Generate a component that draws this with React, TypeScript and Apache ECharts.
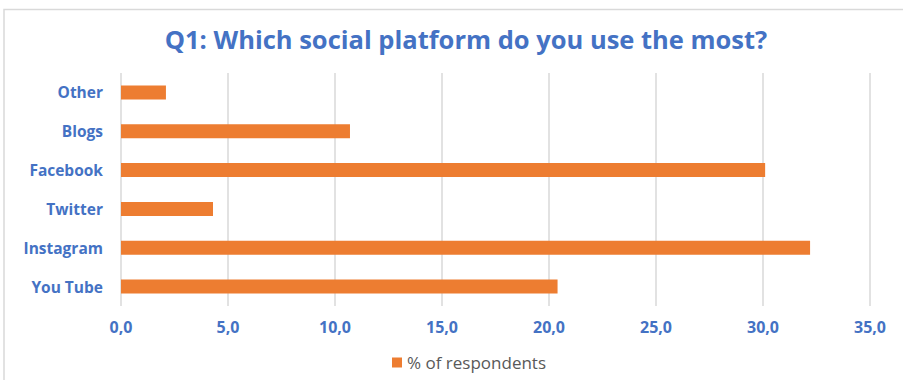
import React, { useEffect, useRef } from "react";
import * as echarts from "echarts";

const categories = ["You Tube", "Instagram", "Twitter", "Facebook", "Blogs", "Other"];
const respondents = [20.4, 32.2, 4.3, 30.1, 10.7, 2.1];
const seriesName = "% of respondents";
const titleText = "Q1: Which social platform do you use the most?";

const BLUE = "#4472C4";
const ORANGE = "#ED7D31";
const FONT = "'Open Sans', sans-serif";

export default function App() {
  const ref = useRef<HTMLDivElement>(null);
  useEffect(() => {
    if (!ref.current) return;
    const chart = echarts.init(ref.current, undefined, { renderer: "svg" });
    chart.setOption({
      animation: false,
      backgroundColor: "#ffffff",
      title: {
        text: titleText,
        left: 461,
        textAlign: "center",
        top: 21,
        textStyle: { color: BLUE, fontFamily: FONT, fontWeight: "bold", fontSize: 25.5 },
      },
      graphic: [
        {
          type: "rect",
          shape: { x: 4, y: 9.5, width: 920, height: 420 },
          style: { fill: "none", stroke: "#D9D9D9", lineWidth: 1.5 },
          silent: true,
        },
      ],
      legend: {
        top: 349,
        left: 387,
        itemWidth: 10,
        itemHeight: 10,
        itemGap: 6,
        icon: "rect",
        textStyle: { color: "#595959", fontFamily: FONT, fontSize: 17 },
        data: [seriesName],
      },
      grid: { left: 121, right: 33, top: 73, bottom: 74, containLabel: false },
      xAxis: {
        type: "value",
        min: 0,
        max: 35,
        interval: 5,
        axisLine: { show: false },
        axisTick: { show: false },
        splitLine: { show: true, lineStyle: { color: "#D9D9D9", width: 1.5 } },
        axisLabel: {
          color: BLUE,
          fontFamily: FONT,
          fontWeight: "bold",
          fontSize: 16,
          margin: 13,
          formatter: (v: number) => v.toFixed(1).replace(".", ","),
        },
      },
      yAxis: {
        type: "category",
        data: categories,
        axisLine: { show: false },
        axisTick: { show: false },
        axisLabel: {
          color: BLUE,
          fontFamily: FONT,
          fontWeight: "bold",
          fontSize: 15.5,
          margin: 18,
        },
      },
      series: [
        {
          name: seriesName,
          type: "bar",
          data: respondents,
          barWidth: 14,
          itemStyle: { color: ORANGE },
        },
      ],
    });
    return () => chart.dispose();
  }, []);
  return (
    <div
      ref={ref}
      style={{ position: "fixed", left: 0, top: 0, width: 903, height: 380 }}
    />
  );
}
